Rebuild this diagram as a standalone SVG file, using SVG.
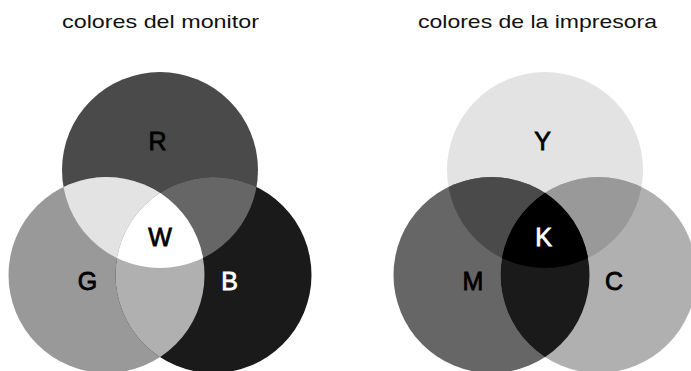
<svg xmlns="http://www.w3.org/2000/svg" width="691" height="371" viewBox="0 0 691 371">
  <style>
    .title { font-family: "Liberation Sans", Arial, sans-serif; font-size: 19px; fill: #111; }
    .lbl { font-family: "Liberation Sans", Arial, sans-serif; font-size: 25px; text-anchor: middle; stroke-width: 0.8px; }
    .dark { fill: #000; stroke: #000; }
    .light { fill: #fff; stroke: #fff; }
  </style>
  <defs>
    <clipPath id="cTop" clipPathUnits="userSpaceOnUse"><circle cx="160" cy="170" r="98"/></clipPath>
    <clipPath id="cLeft" clipPathUnits="userSpaceOnUse"><circle cx="106.5" cy="275" r="98"/></clipPath>
    <clipPath id="cRight" clipPathUnits="userSpaceOnUse"><circle cx="213.5" cy="275" r="98"/></clipPath>
  </defs>
  <rect width="691" height="371" fill="#fff"/>

  <text class="title" x="62" y="28" textLength="197" lengthAdjust="spacingAndGlyphs">colores del monitor</text>
  <text class="title" x="418" y="28" textLength="239" lengthAdjust="spacingAndGlyphs">colores de la impresora</text>

  <!-- Monitor (additive) -->
  <g id="monitor">
    <g id="node-R"><circle cx="160" cy="170" r="98" fill="#4a4a4a"/></g>
    <g id="node-G"><circle cx="106.5" cy="275" r="98" fill="#999999"/></g>
    <g id="node-B"><circle cx="213.5" cy="275" r="98" fill="#1a1a1a"/></g>
    <g id="monitor-overlaps">
      <circle cx="160" cy="170" r="98" fill="#e3e3e3" clip-path="url(#cLeft)"/>
      <circle cx="160" cy="170" r="98" fill="#666666" clip-path="url(#cRight)"/>
      <circle cx="106.5" cy="275" r="98" fill="#b0b0b0" clip-path="url(#cRight)"/>
      <g id="node-W" clip-path="url(#cLeft)"><circle cx="160" cy="170" r="98" fill="#ffffff" clip-path="url(#cRight)"/></g>
    </g>
    <text class="lbl dark" x="157.5" y="150">R</text>
    <text class="lbl dark" x="160" y="246">W</text>
    <text class="lbl dark" x="87.5" y="290">G</text>
    <text class="lbl light" x="229.5" y="290">B</text>
  </g>

  <!-- Printer (subtractive) -->
  <g id="printer" transform="translate(385,0)">
    <g id="node-Y"><circle cx="160" cy="170" r="98" fill="#e3e3e3"/></g>
    <g id="node-M"><circle cx="106.5" cy="275" r="98" fill="#666666"/></g>
    <g id="node-C"><circle cx="213.5" cy="275" r="98" fill="#b0b0b0"/></g>
    <g id="printer-overlaps">
      <circle cx="160" cy="170" r="98" fill="#4a4a4a" clip-path="url(#cLeft)"/>
      <circle cx="160" cy="170" r="98" fill="#999999" clip-path="url(#cRight)"/>
      <circle cx="106.5" cy="275" r="98" fill="#1a1a1a" clip-path="url(#cRight)"/>
      <g id="node-K" clip-path="url(#cLeft)"><circle cx="160" cy="170" r="98" fill="#000000" clip-path="url(#cRight)"/></g>
    </g>
    <text class="lbl dark" x="157.5" y="150">Y</text>
    <text class="lbl light" x="158.5" y="246">K</text>
    <text class="lbl dark" x="88" y="290">M</text>
    <text class="lbl dark" x="229" y="290">C</text>
  </g>
</svg>
